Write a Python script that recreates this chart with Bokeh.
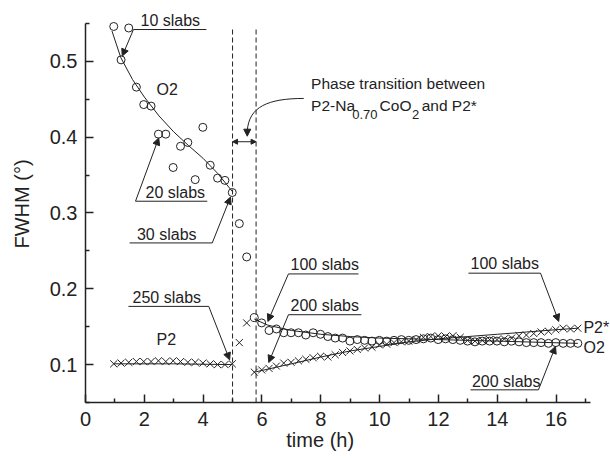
from bokeh.plotting import figure
from bokeh.models import (Label, Arrow, NormalHead, FixedTicker)
from bokeh.embed import file_html
from bokeh.resources import INLINE

# ---------------- data ----------------
# O2 phase, before the transition (circles)
o2_early_t = [0.96, 1.21, 1.47, 1.73, 1.98, 2.23, 2.48, 2.73, 2.98, 3.23, 3.48, 3.73, 3.99, 4.24, 4.49, 4.74, 4.99]
o2_early_w = [0.546, 0.502, 0.544, 0.466, 0.443, 0.441, 0.404, 0.404, 0.360, 0.388, 0.393, 0.344, 0.413, 0.363, 0.346, 0.343, 0.327]
# circles inside the transition window
o2_trans_t = [5.23, 5.48]
o2_trans_w = [0.286, 0.242]
# O2 phase after the transition
o2_late_t = [5.74, 5.99, 6.24, 6.49, 6.74, 6.99, 7.24, 7.49, 7.74, 7.99, 8.24, 8.49, 8.74, 8.99, 9.24,
             9.49, 9.74, 9.99, 10.24, 10.49, 10.74, 10.99, 11.24, 11.49, 11.74, 11.99, 12.24, 12.49,
             12.74, 12.99, 13.24, 13.49, 13.74, 13.99, 14.24, 14.49, 14.74, 14.99, 15.24, 15.49,
             15.74, 15.99, 16.24, 16.49, 16.74]
o2_late_w = [0.162, 0.155, 0.145, 0.147, 0.142, 0.142, 0.142, 0.139, 0.142, 0.140, 0.137, 0.135, 0.135,
             0.131, 0.133, 0.132, 0.131, 0.132, 0.131, 0.132, 0.133, 0.132, 0.133, 0.134, 0.135, 0.133,
             0.134, 0.133, 0.132, 0.131, 0.130, 0.131, 0.131, 0.131, 0.130, 0.131, 0.130, 0.129, 0.129,
             0.129, 0.128, 0.129, 0.128, 0.128, 0.128]
# P2 phase (crosses)
p2_t = [0.96, 1.21, 1.47, 1.73, 1.98, 2.23, 2.48, 2.73, 2.98, 3.23, 3.48, 3.73, 3.99, 4.24, 4.49, 4.74, 4.99]
p2_w = [0.101, 0.102, 0.103, 0.104, 0.104, 0.104, 0.105, 0.104, 0.105, 0.104, 0.103, 0.103, 0.102,
        0.101, 0.100, 0.100, 0.101]
# crosses inside the transition window
p2_trans_t = [5.23, 5.48]
p2_trans_w = [0.129, 0.155]
# P2* phase (crosses)
p2s_t = [5.74, 5.99, 6.24, 6.49, 6.74, 6.99, 7.24, 7.49, 7.74, 7.99, 8.24, 8.49, 8.74, 8.99, 9.24,
         9.49, 9.74, 9.99, 10.24, 10.49, 10.74, 10.99, 11.24, 11.49, 11.74, 11.99, 12.24, 12.49,
         12.74, 12.99, 13.24, 13.49, 13.74, 13.99, 14.24, 14.49, 14.74, 14.99, 15.24, 15.49,
         15.74, 15.99, 16.24, 16.49, 16.74]
p2s_w = [0.090, 0.093, 0.095, 0.098, 0.102, 0.103, 0.105, 0.107, 0.109, 0.111, 0.110, 0.113, 0.116,
         0.118, 0.120, 0.122, 0.123, 0.126, 0.127, 0.129, 0.130, 0.131, 0.133, 0.136, 0.137, 0.138,
         0.137, 0.138, 0.136, 0.132, 0.131, 0.132, 0.133, 0.133, 0.134, 0.135, 0.138, 0.139, 0.141,
         0.143, 0.144, 0.146, 0.148, 0.147, 0.148]

# fitted curves
fit_o2a_t = [0.90, 1.20, 1.60, 2.00, 2.50, 3.00, 3.50, 4.00, 4.50, 5.00]
fit_o2a_w = [0.540, 0.505, 0.476, 0.453, 0.428, 0.407, 0.389, 0.372, 0.352, 0.328]
fit_p2_t = [0.96, 3.00, 4.99]
fit_p2_w = [0.101, 0.101, 0.100]
fit_o2b_t = [5.74, 6.20, 7.00, 8.00, 9.00, 10.00, 12.00, 14.00, 16.74]
fit_o2b_w = [0.160, 0.152, 0.145, 0.140, 0.137, 0.135, 0.133, 0.131, 0.128]
fit_p2s_t = [5.74, 7.00, 8.00, 9.00, 10.00, 11.00, 12.00, 13.00, 14.00, 15.00, 16.00, 16.74]
fit_p2s_w = [0.090, 0.101, 0.110, 0.118, 0.124, 0.130, 0.134, 0.137, 0.140, 0.143, 0.146, 0.148]

transition_bounds = [5.0, 5.8]

x_ticks = [0, 2, 4, 6, 8, 10, 12, 14, 16]
x_minor = [1, 3, 5, 7, 9, 11, 13, 15, 17]
y_ticks = [0.1, 0.2, 0.3, 0.4, 0.5]
y_minor = [0.05, 0.15, 0.25, 0.35, 0.45, 0.55]

X_END = 17.17   # end of the drawn x axis
Y_END = 0.55    # end of the drawn y axis

# ---------------- figure ----------------
FONT = "Liberation Sans"
INK = "#222222"
p = figure(width=610, height=459, x_range=(0, 17.85), y_range=(0.05, 0.5737),
           output_backend="svg", toolbar_location=None,
           min_border_left=85, min_border_right=0, min_border_top=5, min_border_bottom=57)
p.outline_line_color = None
p.grid.visible = False
p.background_fill_color = "white"

for ax in (p.xaxis[0], p.yaxis[0]):
    ax.axis_line_width = 1.5
    ax.axis_line_color = INK
    ax.major_tick_in = 8
    ax.major_tick_out = 0
    ax.minor_tick_in = 4
    ax.minor_tick_out = 0
    ax.major_tick_line_width = 1.5
    ax.minor_tick_line_width = 1.5
    ax.major_tick_line_color = INK
    ax.minor_tick_line_color = INK
    ax.major_label_text_font = FONT
    ax.major_label_text_font_size = "20px"
    ax.major_label_text_color = INK
    ax.major_label_text_line_height = 1.0
    ax.axis_label_text_font = FONT
    ax.axis_label_text_font_size = "20px"
    ax.axis_label_text_font_style = "normal"
    ax.axis_label_text_color = INK
    ax.axis_label_text_line_height = 1.0

p.xaxis.bounds = (0, X_END)
p.yaxis.bounds = (0.05, Y_END)
p.xaxis.ticker = FixedTicker(ticks=x_ticks, minor_ticks=x_minor)
p.yaxis.ticker = FixedTicker(ticks=y_ticks, minor_ticks=y_minor)
p.xaxis.axis_label = "time (h)" + "\u00a0" * 10
p.yaxis.axis_label = "FWHM (°)"
p.xaxis.major_label_standoff = 9
p.yaxis.major_label_standoff = 8
p.xaxis.axis_label_standoff = 0
p.yaxis.axis_label_standoff = 14

# ---------------- helpers for annotations ----------------
def lab(x, y, text, size="16px", align="left"):
    p.add_layout(Label(x=x, y=y, text=text, text_font=FONT, text_font_size=size,
                       text_color=INK, text_baseline="middle", text_align=align))

def seg(x0, y0, x1, y1, head=True, start_head=False, hs=7, dash="solid"):
    kw = dict(x_start=x0, y_start=y0, x_end=x1, y_end=y1, line_color=INK, line_width=1,
              line_dash=dash)
    kw["end"] = NormalHead(size=hs, fill_color=INK, line_color=INK) if head else None
    kw["start"] = NormalHead(size=hs, fill_color=INK, line_color=INK) if start_head else None
    p.add_layout(Arrow(**kw))

# dashed transition boundaries
for loc in transition_bounds:
    seg(loc, 0.05, loc, 0.545, head=False, dash="5 3")

# fits
p.line(fit_o2a_t, fit_o2a_w, line_color=INK, line_width=1)
p.line(fit_p2_t, fit_p2_w, line_color=INK, line_width=1)
p.line(fit_o2b_t, fit_o2b_w, line_color=INK, line_width=1)
p.line(fit_p2s_t, fit_p2s_w, line_color=INK, line_width=1)

# markers
CS, XS = 8, 10
p.scatter(o2_early_t, o2_early_w, marker="circle", size=CS, fill_color=None, line_color=INK, line_width=1)
p.scatter(o2_trans_t, o2_trans_w, marker="circle", size=CS, fill_color=None, line_color=INK, line_width=1)
p.scatter(o2_late_t, o2_late_w, marker="circle", size=CS, fill_color=None, line_color=INK, line_width=1)
p.scatter(p2_t, p2_w, marker="x", size=XS, line_color=INK, line_width=1)
p.scatter(p2_trans_t, p2_trans_w, marker="x", size=XS, line_color=INK, line_width=1)
p.scatter(p2s_t, p2s_w, marker="x", size=XS, line_color=INK, line_width=1)

# ---------------- annotations ----------------
# 10 slabs
lab(1.87, 0.5534, "10 slabs")
seg(1.63, 0.542, 4.11, 0.542, head=False)
seg(1.63, 0.542, 1.25, 0.507)
# O2 label
lab(2.78, 0.463, "O2", align="center")
# 20 slabs
lab(2.04, 0.3264, "20 slabs")
seg(1.70, 0.3155, 4.14, 0.3155, head=False)
seg(1.70, 0.3155, 2.49, 0.399)
# 30 slabs
lab(1.75, 0.2719, "30 slabs")
seg(1.50, 0.2605, 4.31, 0.2605, head=False)
seg(4.31, 0.2605, 4.93, 0.321)
# 250 slabs
lab(1.60, 0.1884, "250 slabs")
seg(1.46, 0.1768, 4.19, 0.1768, head=False)
seg(4.19, 0.1768, 4.90, 0.1063)
# P2 label
lab(2.75, 0.1328, "P2", align="center")
# 100 slabs (middle)
lab(6.97, 0.2317, "100 slabs")
seg(6.90, 0.2196, 9.28, 0.2196, head=False)
seg(6.90, 0.2196, 6.20, 0.157)
# 200 slabs (middle)
lab(6.97, 0.1779, "200 slabs")
seg(6.90, 0.1658, 9.38, 0.1658, head=False)
seg(6.90, 0.1658, 6.23, 0.1028)
# 100 slabs (right)
lab(13.09, 0.2334, "100 slabs")
seg(13.02, 0.2206, 15.47, 0.2206, head=False)
seg(15.47, 0.2206, 16.09, 0.157)
# 200 slabs (right)
lab(13.14, 0.0779, "200 slabs")
seg(13.09, 0.0667, 15.40, 0.0667, head=False)
seg(15.40, 0.0667, 15.98, 0.124)
# end labels
lab(16.93, 0.149, "P2*")
lab(16.93, 0.123, "O2")

# phase transition text
lab(7.67, 0.4710, "Phase transition between", size="15.5px")
lab(7.67, 0.4414, "P2-Na", size="15.5px")
lab(9.07, 0.4294, "0.70", size="13px")
lab(10.00, 0.4414, "CoO", size="15.5px")
lab(11.10, 0.4294, "2", size="13px")
lab(11.43, 0.4414, "and P2*", size="15.5px")

# curved pointer and double arrow between the dashed lines
p.bezier(x0=[7.42], y0=[0.4511], x1=[5.50], y1=[0.408],
         cx0=[6.2], cy0=[0.4511], cx1=[5.55], cy1=[0.440], line_color=INK, line_width=1)
seg(5.50, 0.409, 5.50, 0.4013, hs=7)
seg(5.0, 0.394, 5.8, 0.394, head=True, start_head=True, hs=5)

open("out.html", "w").write(file_html(p, INLINE))
